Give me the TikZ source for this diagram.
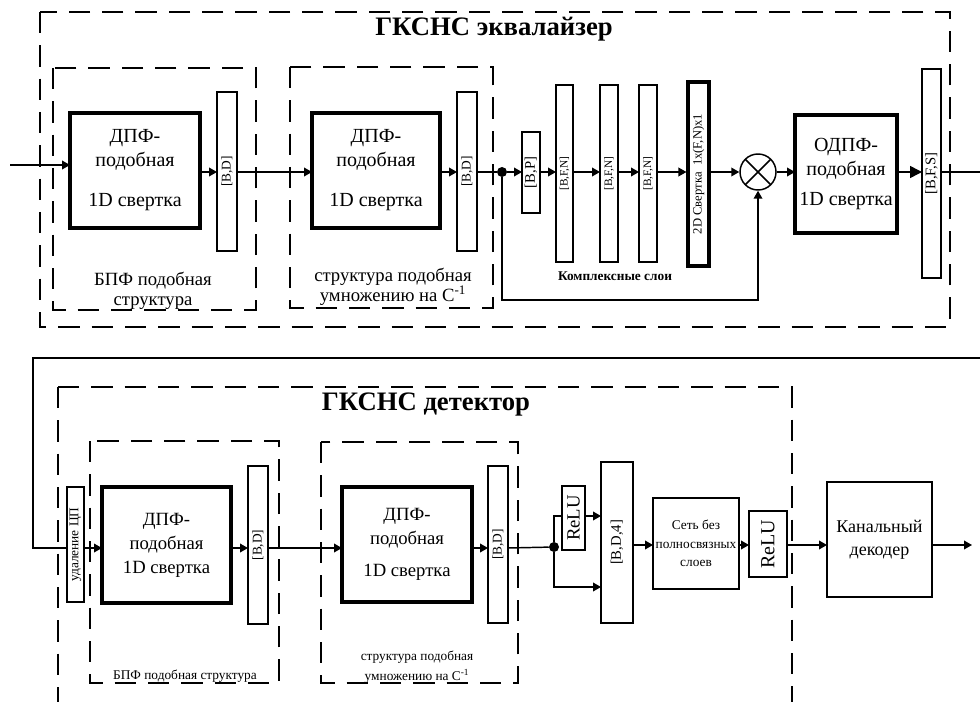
\documentclass[tikz,border=0pt]{standalone}
\usepackage{fontspec}
\setmainfont{Liberation Serif}
\usetikzlibrary{arrows.meta,calc}
\tikzset{
  sz/.style 2 args={minimum width=#1*0.75pt, minimum height=#2*0.75pt},
  blk/.style={draw, line width=2.3pt, inner sep=0pt, outer sep=0pt, align=center, font=\fontsize{15}{18}\selectfont},
  blkb/.style={blk, font=\fontsize{14}{18}\selectfont},
  tall/.style={draw, line width=1.1pt, inner sep=0pt, outer sep=0pt},
  thin/.style={draw, line width=1.1pt, inner sep=0pt, outer sep=0pt, align=center},
  lbl/.style={rotate=90, inner sep=0pt, font=\fontsize{10}{11}\selectfont},
  lbls/.style={rotate=90, inner sep=0pt, font=\fontsize{8.5}{9}\selectfont},
  grp/.style={draw, line width=1.1pt, dash pattern=on 16pt off 9pt},
  conn/.style={line width=1.1pt},
  arr/.style={conn, -{Triangle[length=6pt,width=6.5pt]}},
  arrb/.style={conn, -{Triangle[length=9pt,width=9pt]}},
  dotn/.style={circle, fill, inner sep=0pt, minimum size=7.5pt},
  captxt/.style={align=center, inner sep=0pt, font=\fontsize{14}{15}\selectfont},
  captxts/.style={align=center, inner sep=0pt, font=\fontsize{10}{15}\selectfont},
  ttl/.style={inner sep=0pt, font=\fontsize{20}{22}\selectfont\bfseries},
  crossed/.style={path picture={\draw[line width=1.1pt] (path picture bounding box.north west) -- (path picture bounding box.south east)
                 (path picture bounding box.north east) -- (path picture bounding box.south west);}},
}
\begin{document}
\begin{tikzpicture}[x=0.75pt,y=-0.75pt]
\fill[white] (0,0) rectangle (980,702);
\useasboundingbox (0,0) rectangle (980,702);

% ---------------- Equalizer (top) ----------------
\draw[grp] (40,12) rectangle (950,327);
\draw[grp] (53,68) rectangle (256,310);
\draw[grp] (290,67) rectangle (493,308);
\node[ttl] (t1) at (494,29) {ГКСНС эквалайзер};

\node[blk, sz={130}{115}] (b1) at (135,170.5) {ДПФ-\\подобная\\[12pt]1D свертка};
\node[tall, sz={20}{159}] (bd1) at (227,171.5) {};
\node[lbl] (bd1t) at (bd1) {[B,D]};
\node[captxt] (c1) at (153,291) {БПФ подобная\\структура};

\node[blk, sz={128}{115}] (b2) at (376,170.5) {ДПФ-\\подобная\\[12pt]1D свертка};
\node[tall, sz={20}{159}] (bd2) at (467,171.5) {};
\node[lbl] (bd2t) at (bd2) {[B,D]};
\node[captxt] (c2) at (393,287) {структура подобная\\умножению на C\textsuperscript{-1}};

\node[dotn] (d1) at (502,172) {};
\node[tall, sz={18}{81}] (bp) at (531,172.5) {};
\node[lbl, font=\fontsize{11}{12}\selectfont] (bpt) at (bp) {[B,P]};
\node[tall, sz={17}{177}] (bfn1) at (564.5,173.5) {};
\node[lbls] (bfn1t) at (bfn1) {[B,F,N]};
\node[tall, sz={18}{177}] (bfn2) at (609,173.5) {};
\node[lbls] (bfn2t) at (bfn2) {[B,F,N]};
\node[tall, sz={18}{177}] (bfn3) at (648,173.5) {};
\node[lbls] (bfn3t) at (bfn3) {[B,F,N]};
\node[draw, line width=2.3pt, inner sep=0pt, sz={21}{184}] (conv) at (698.5,174) {};
\node[lbls, font=\fontsize{9.5}{10}\selectfont] (convt) at (conv) {2D Свертка\ \ 1x(F,N)x1};
\node[inner sep=0pt, font=\fontsize{10}{11}\selectfont\bfseries] (cl) at (615,276) {Комплексные слои};

\node[circle, draw, line width=1.1pt, inner sep=0pt, minimum size=27pt, crossed] (mul) at (758,172) {};
\node[blk, sz={102}{118}] (odpf) at (846,174) {ОДПФ-\\подобная\\[4pt]1D свертка};
\node[tall, sz={19}{209}] (bfs) at (931.5,173.5) {};
\node[lbl, font=\fontsize{11}{12}\selectfont] (bfst) at (bfs) {[B,F,S]};

\coordinate (r1) at (0,172);
\coordinate (in1) at (10,165);
\coordinate (out1) at (980,172);
\coordinate (fb) at (758,300);
\draw[arr] (in1) -- (in1 -| b1.west);
\draw[arr] (b1.east |- r1) -- (bd1.west |- r1);
\draw[arr] (bd1.east |- r1) -- (b2.west |- r1);
\draw[arr] (b2.east |- r1) -- (bd2.west |- r1);
\draw[conn] (bd2.east |- r1) -- (d1);
\draw[arr] (d1) -- (bp.west |- r1);
\draw[arr] (bp.east |- r1) -- (bfn1.west |- r1);
\draw[arr] (bfn1.east |- r1) -- (bfn2.west |- r1);
\draw[arr] (bfn2.east |- r1) -- (bfn3.west |- r1);
\draw[arr] (bfn3.east |- r1) -- (conv.west |- r1);
\draw[arr] (conv.east |- r1) -- (mul.west);
\draw[arr] (mul.east) -- (odpf.west |- mul.east);
\draw[arrb] (odpf.east |- r1) -- (bfs.west |- r1);
\draw[conn] (bfs.east |- r1) -- (out1);
\draw[arr] (d1) |- (fb) -- (mul.south);

% ---------------- Detector (bottom) ----------------
\draw[grp] (58,387) -- (792,387) -- (792,730);
\draw[grp] (58,387) -- (58,730);
\draw[grp] (90,441) rectangle (279,683);
\draw[grp] (321,442) rectangle (518,683);
\node[ttl] (t2) at (426,405) {ГКСНС детектор};

\node[thin, sz={17}{115}] (ucp) at (75.5,544.5) {};
\node[inner sep=0pt, rotate=90, font=\fontsize{10}{11}\selectfont] (ucpt) at (ucp) {удаление ЦП};
\node[blkb, sz={129}{116}] (b3) at (166.5,545) {ДПФ-\\подобная\\1D свертка};
\node[tall, sz={20}{158}] (bd3) at (258,545) {};
\node[lbl] (bd3t) at (bd3) {[B,D]};
\node[captxts] (c3) at (185,676) {БПФ подобная структура};

\node[blkb, sz={130}{115}] (b4) at (407,544.5) {ДПФ-\\подобная\\[6pt]1D свертка};
\node[tall, sz={20}{157}] (bd4) at (498,544.5) {};
\node[lbl] (bd4t) at (bd4) {[B,D]};
\node[captxts] (c4) at (417,667) {структура подобная\\умножению на C\textsuperscript{-1}};

\node[dotn] (d2) at (554,547) {};
\node[thin, sz={23}{64}] (relu1) at (573.5,518) {};
\node[inner sep=0pt, rotate=90, font=\fontsize{14}{15}\selectfont] (relu1t) at (relu1) {ReLU};
\node[tall, sz={32}{161}] (bd4b) at (617,542.5) {};
\node[lbl, font=\fontsize{11}{12}\selectfont] (bd4bt) at (bd4b) {[B,D,4]};
\node[thin, sz={86}{91}, font=\fontsize{10}{14}\selectfont] (net) at (696,543.5) {Сеть без\\полносвязных\\слоев};
\node[thin, sz={38}{66}] (relu2) at (768,544) {};
\node[inner sep=0pt, rotate=90, font=\fontsize{15}{16}\selectfont] (relu2t) at (relu2) {ReLU};
\node[thin, sz={105}{115}, font=\fontsize{13.5}{17}\selectfont] (dec) at (879.5,539.5) {Канальный\\декодер};

\coordinate (r2) at (0,548);
\coordinate (r3) at (0,545);
\coordinate (r4) at (0,516);
\coordinate (r5) at (0,587);
\coordinate (tr) at (980,358);
\coordinate (tl) at (33,358);
\coordinate (out2) at (972,545);
\draw[conn] (tr) -- (tl) |- (ucp.west |- r2);
\draw[arr] (ucp.east |- r2) -- (b3.west |- r2);
\draw[arr] (b3.east |- r2) -- (bd3.west |- r2);
\draw[arr] (bd3.east |- r2) -- (b4.west |- r2);
\draw[arr] (b4.east |- r2) -- (bd4.west |- r2);
\draw[conn] (bd4.east |- r2) -- (d2);
\draw[conn] (d2) |- (relu1.west |- r4);
\draw[arr] (relu1.east |- r4) -- (bd4b.west |- r4);
\draw[arr] (d2) |- (bd4b.west |- r5);
\draw[arr] (bd4b.east |- r3) -- (net.west |- r3);
\draw[arr] (net.east |- r3) -- (relu2.west |- r3);
\draw[arr] (relu2.east |- r3) -- (dec.west |- r3);
\draw[arr] (dec.east |- r3) -- (out2);
\end{tikzpicture}
\end{document}
